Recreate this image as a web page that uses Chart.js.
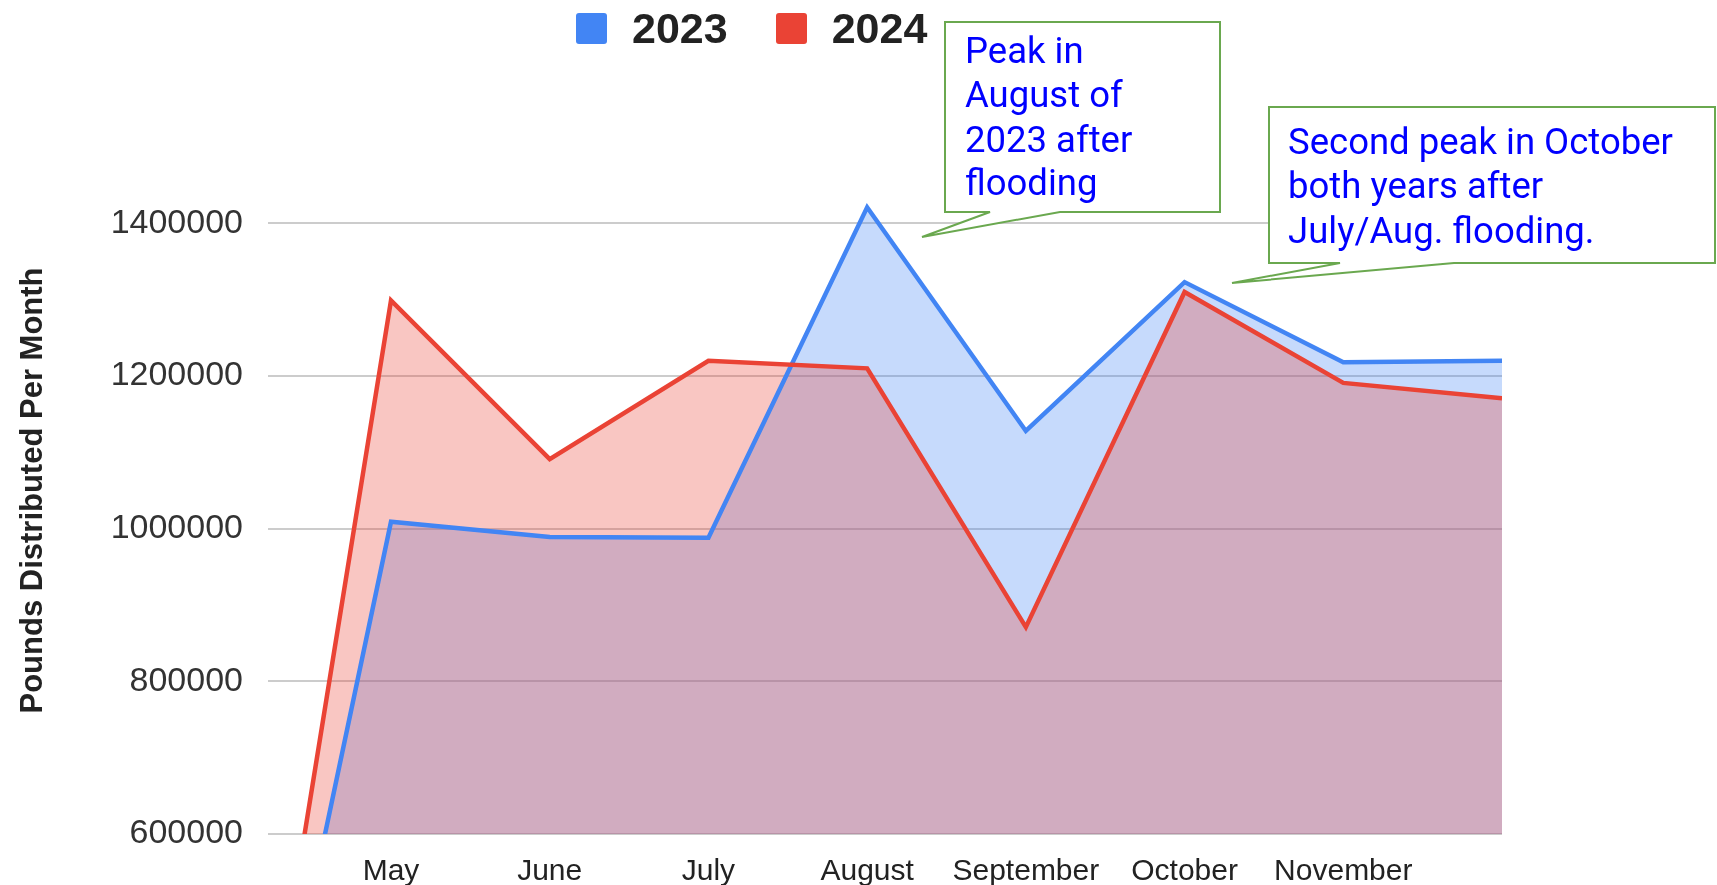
<!DOCTYPE html>
<html>
<head>
<meta charset="utf-8">
<script src="https://cdn.jsdelivr.net/npm/chart.js@4.4.1/dist/chart.umd.min.js"></script>
<style>
    body { margin: 0; background: #fff; }
    #wrap { position: relative; width: 1717px; height: 885px; }
    #legend { position: absolute; left: 576px; top: 4px; display: flex; align-items: center;
        font-family: "Liberation Sans", Arial, sans-serif; font-weight: bold; font-size: 43px; color: #222; }
    #legend .item { display: flex; align-items: center; margin-right: 48px; }
    #legend .box { width: 31px; height: 31px; border-radius: 3px; margin-right: 25px; }
    #notes { position: absolute; left: 0; top: 0; }
</style>
</head>
<body>
<div id="wrap">
    <canvas id="allCharts" width="1717" height="885"></canvas>
    <div id="legend"></div>
    <svg id="notes" width="1717" height="885">
        <g fill="#fff" stroke="#6aa84f" stroke-width="2">
            <path d="M945,22 H1220 V212 H1060 L922,237 L990,212 H945 Z" />
            <path d="M1269,107 H1715 V263 H1454 L1232,283 L1340,263 H1269 Z" />
        </g>
        <g fill="#0000ff" font-family="Roboto" font-size="36.5">
            <text x="965" y="63">Peak in</text>
            <text x="965" y="107">August of</text>
            <text x="965" y="152">2023 after</text>
            <text x="965" y="195">flooding</text>
            <text x="1288" y="154">Second peak in October</text>
            <text x="1288" y="198">both years after</text>
            <text x="1288" y="243">July/Aug. flooding.</text>
        </g>
    </svg>
</div>
<script>
// month slots: the first one (April) sits just left of the visible plot,
// the last one (December) is not labelled on the axis
const months = ['April', 'May', 'June', 'July', 'August', 'September', 'October', 'November', 'December']
const labelledMonths = [1, 2, 3, 4, 5, 6, 7]
const pounds2023 = [25000, 1009000, 989000, 988000, 1421000, 1128000, 1323000, 1218000, 1220000]
const pounds2024 = [15000, 1299000, 1091000, 1220000, 1210000, 871000, 1310000, 1191000, 1171000]
const yTicks = [600000, 800000, 1000000, 1200000, 1400000]

const toPoints = (values) => values.map((y, i) => ({ x: i, y }))

const ctx = document.getElementById('allCharts').getContext('2d');

const chart = new Chart(ctx, {
    type: 'line',
    data: {
        datasets: [
            {
                label: '2023',
                data: toPoints(pounds2023),
                borderColor: '#4285f4',
                backgroundColor: 'rgba(66, 133, 244, 0.3)',
                fill: 'start',
                order: 1,
            },
            {
                label: '2024',
                data: toPoints(pounds2024),
                borderColor: '#ea4335',
                backgroundColor: 'rgba(234, 67, 53, 0.3)',
                fill: 'start',
                order: 0,
            },
        ],
    },
    options: {
        responsive: false,
        animation: false,
        layout: { padding: { top: 147, right: 215, bottom: 0, left: 0 } },
        elements: {
            line: { borderWidth: 4.5, tension: 0, borderJoinStyle: 'miter' },
            point: { radius: 0, hoverRadius: 0 },
        },
        datasets: { line: { clip: 0 } },
        plugins: {
            legend: { display: false },
            tooltip: { enabled: false },
            // all areas first, then the lines on top of them
            filler: { drawTime: 'beforeDatasetsDraw' },
        },
        scales: {
            x: {
                type: 'linear',
                min: 0.225,
                max: 8,
                afterBuildTicks: (scale) => { scale.ticks = labelledMonths.map(v => ({ value: v })) },
                grid: { display: false },
                border: { display: false },
                ticks: {
                    maxRotation: 0,
                    padding: 12,
                    color: '#222',
                    font: { family: '"Liberation Sans", Arial', size: 30 },
                    callback: (v) => months[v],
                },
                afterFit: (scale) => { scale.height = 51 },
            },
            y: {
                min: 600000,
                max: 1500000,
                afterBuildTicks: (scale) => { scale.ticks = yTicks.map(v => ({ value: v })) },
                grid: { color: '#cccccc', lineWidth: 2, drawTicks: false },
                border: { display: false },
                ticks: {
                    padding: 25,
                    color: '#333',
                    font: { family: '"Liberation Sans", Arial', size: 34 },
                    callback: (v) => String(v),
                },
                title: {
                    display: true,
                    text: 'Pounds Distributed Per Month',
                    color: '#222',
                    padding: { top: 15, bottom: 0 },
                    font: { family: '"Liberation Sans", Arial', size: 31, weight: 'bold' },
                },
                afterFit: (scale) => { scale.width = 268 },
            },
        },
    },
});

// html legend, built from the datasets
const legend = document.getElementById('legend');
chart.data.datasets.forEach(ds => {
    const item = document.createElement('div');
    item.className = 'item';
    item.innerHTML = `<span class="box" style="background:${ds.borderColor}"></span><span>${ds.label}</span>`;
    legend.appendChild(item);
});
</script>
</body>
</html>
